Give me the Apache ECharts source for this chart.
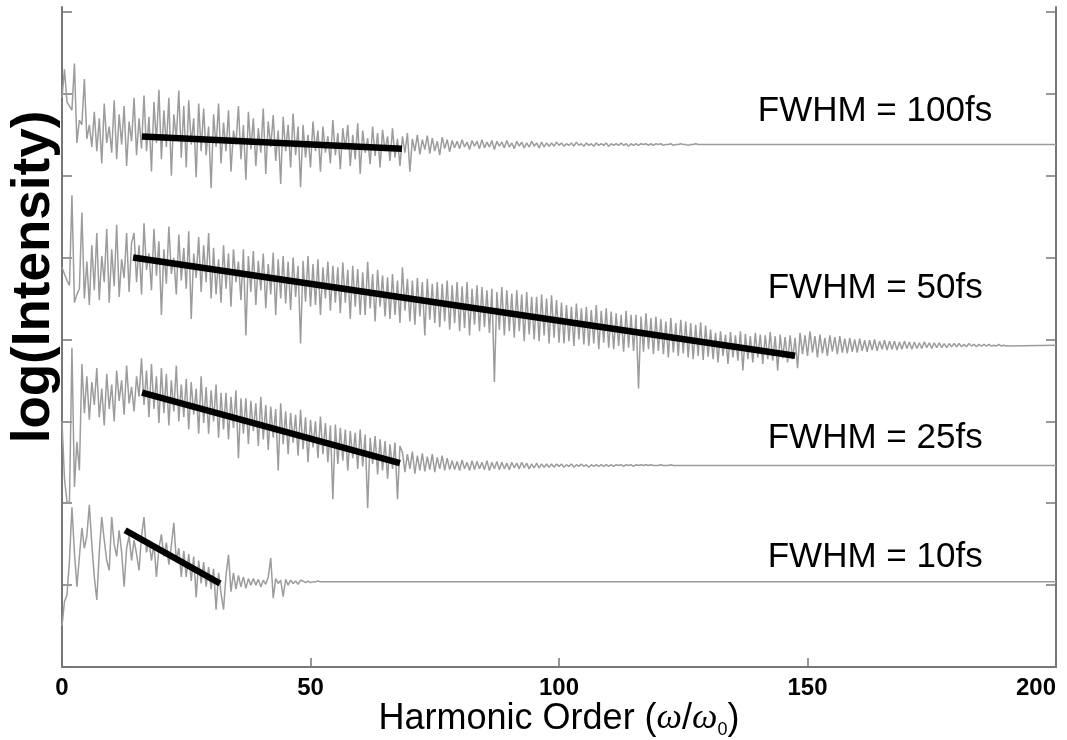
<!DOCTYPE html>
<html><head><meta charset="utf-8">
<script src="https://cdn.jsdelivr.net/npm/echarts@6/dist/echarts.min.js"></script>
<style>html,body{margin:0;padding:0;background:#fff}#c{width:1067px;height:740px}</style>
</head><body><div id="c"></div>
<script>
// ---- data ----
const step = 0.5;          // harmonic-order spacing of the sampled spectra
const xEnd = 200;
const labels = ['FWHM = 100fs', 'FWHM = 50fs', 'FWHM = 25fs', 'FWHM = 10fs'];
const baselines = [6.38, 3.93, 2.46, 1.04];
const labelX = [140, 142, 142, 142];
const labelY = [6.79, 4.63, 2.79, 1.34];
const yTicks = [0, 1, 2, 3, 4, 5, 6, 7, 8];

const fwhm100 = [6.95,7.30,6.90,6.85,6.80,7.37,6.40,6.68,6.62,7.18,6.45,
6.62,6.35,6.78,6.30,6.70,6.15,6.88,6.40,6.60,6.28,6.92,6.20,6.75,6.38,6.85,6.12,6.66,6.42,6.95,6.25,6.70,6.33,
6.98,6.30,6.72,6.05,6.90,6.40,7.05,6.20,6.80,6.35,6.95,6.00,6.75,6.45,7.04,6.22,6.85,6.10,6.92,6.38,6.70,5.98,6.88,6.30,
6.82,6.25,6.60,5.85,6.75,6.35,6.88,6.15,6.65,6.30,6.80,6.05,6.55,6.38,6.85,6.20,6.62,5.95,6.78,6.32,6.70,6.12,6.58,6.28,6.82,6.02,6.66,6.35,6.74,6.18,6.55,5.90,6.72,6.30,6.62,6.10,6.76,6.25,6.60,5.86,
6.62,6.22,6.50,6.10,6.66,6.30,6.55,6.05,6.60,6.28,6.48,6.15,6.68,6.25,6.52,6.08,6.58,6.32,6.62,6.12,6.50,6.20,6.64,6.02,6.55,6.28,6.46,6.14,6.60,6.24,6.52,6.10,6.56,6.30,6.48,6.18,6.58,6.22,6.45,6.12,
6.48,6.28,6.52,6.05,6.45,6.30,6.50,6.26,6.44,6.32,6.49,6.27,6.46,6.30,6.42,6.25,6.47,6.33,6.44,6.29,
6.43,6.34,6.42,6.33,6.44,6.35,6.41,6.32,6.43,6.36,6.42,6.33,6.44,6.34,6.41,6.35,6.43,6.32,6.42,6.36,6.41,6.34,6.43,6.35,6.40,6.33,6.42,6.36,6.41,6.34,6.40,6.35,6.42,6.36,6.40,6.34,6.41,6.35,6.40,6.36,
6.40,6.36,6.41,6.37,6.40,6.36,6.39,6.37,6.40,6.36,6.41,6.37,6.39,6.36,6.40,6.37,6.39,6.36,6.40,6.37,6.39,6.37,6.40,6.36,6.39,6.37,6.39,6.37,6.40,6.37,6.39,6.36,6.39,6.37,6.39,6.37,6.39,6.38,6.39,6.37,
6.39,6.37,6.39,6.38,6.39,6.37,6.38,6.38,6.39,6.37,6.38,6.38,6.39,6.38,6.38,6.37,6.38,6.38,6.39,6.38,6.38,6.38,6.38,6.38];

const fwhm50 = [4.88,4.80,4.72,4.66,5.76,4.45,4.55,4.62,5.55,
4.50,4.95,4.42,5.15,4.60,5.30,4.48,5.02,4.70,5.35,4.45,5.10,4.65,5.40,4.52,4.98,4.75,5.30,4.58,5.18,
5.30,4.70,5.15,4.55,5.42,4.85,5.05,4.60,5.35,4.78,5.20,4.30,5.10,4.68,5.38,4.80,5.00,4.55,5.28,4.72,5.12,4.62,5.32,4.25,5.05,4.75,5.25,4.58,5.15,4.70,5.30,4.50,
5.12,4.55,4.98,4.45,5.15,4.62,5.05,4.40,5.10,4.70,
4.95,4.48,5.10,4.05,5.02,4.58,5.08,4.42,4.96,4.60,
5.05,4.38,4.92,4.55,5.06,4.30,4.98,4.50,5.02,4.44,
4.95,4.36,5.00,4.52,4.90,3.95,4.96,4.46,5.02,4.40,
4.92,4.42,4.98,4.30,4.88,4.50,4.95,4.35,4.90,4.45,
4.88,4.32,4.94,4.45,4.85,4.25,4.90,4.40,4.86,4.30,
4.82,4.30,4.95,4.38,4.80,4.22,4.85,4.40,4.78,4.28,
4.76,4.25,4.80,4.30,4.72,4.20,4.88,4.35,4.74,4.22,
4.72,4.18,4.75,4.28,4.70,4.05,4.74,4.24,4.68,4.20,
4.70,4.15,4.68,4.22,4.72,4.12,4.66,4.20,4.70,4.10,
4.65,4.14,4.70,4.05,4.62,4.18,4.66,4.10,4.64,4.15,
4.60,4.08,4.62,3.48,4.58,4.12,4.64,4.05,4.60,4.10,
4.56,4.02,4.60,4.10,4.55,3.98,4.58,4.06,4.52,4.00,
4.52,3.98,4.55,4.05,4.50,3.95,4.54,4.02,4.48,3.96,
4.45,3.95,4.42,3.98,4.40,3.92,4.44,4.00,4.38,3.94,
4.40,3.92,4.36,3.95,4.42,3.88,4.35,3.96,4.38,3.90,
4.34,3.88,4.32,3.92,4.30,3.85,4.35,3.90,4.30,3.86,
4.30,3.40,4.28,3.85,4.32,3.88,4.26,3.82,4.28,3.86,
4.25,3.82,4.22,3.78,4.26,3.84,4.20,3.80,4.24,3.83,
4.22,3.78,4.20,3.76,4.18,3.80,4.21,3.75,4.17,3.79,
4.12,3.76,4.08,3.72,4.10,3.80,4.06,3.70,4.09,3.78,4.05,3.74,4.10,3.62,4.07,3.76,4.04,3.72,4.08,3.78,4.06,3.70,4.05,3.76,4.09,3.74,4.04,3.62,4.06,3.77,4.03,3.72,4.05,3.76,4.02,3.65,
4.08,3.82,4.05,3.80,4.10,3.84,4.04,3.78,4.06,3.83,4.02,3.80,4.05,3.85,4.03,3.82,4.04,3.84,4.01,3.83,4.02,3.85,4.00,3.84,4.01,3.86,3.99,3.85,
3.99,3.87,4.00,3.86,3.98,3.88,3.99,3.87,3.98,3.88,3.98,3.87,3.97,3.88,3.98,3.89,3.97,3.88,3.97,3.89,3.96,3.89,3.97,3.90,3.96,3.89,3.96,3.90,3.96,3.90,3.95,3.90,3.95,3.91,
3.95,3.91,3.95,3.91,3.94,3.91,3.95,3.92,3.94,3.91,3.94,3.92,3.94,3.92,3.94,3.92,3.93,3.92,3.94,3.92,3.93,3.92];

const fwhm25 = [3.00,2.30,2.02,2.00,3.90,2.20,2.75,2.40,3.70,
3.10,3.55,3.02,3.48,3.20,3.65,3.05,3.40,2.95,3.58,3.15,3.45,3.00,3.62,3.25,3.50,3.08,3.68,3.22,3.42,3.12,3.55,3.30,3.77,
3.20,3.62,3.05,3.70,3.15,3.55,2.98,3.65,
3.10,3.58,2.95,3.50,3.12,3.68,3.00,3.45,
3.05,3.52,2.90,3.48,3.08,3.40,2.85,3.55,
2.98,3.42,2.85,3.38,3.00,3.45,2.80,3.35,
2.90,3.35,2.78,3.30,2.92,3.38,2.55,3.28,
2.85,3.28,2.72,3.25,2.88,3.22,2.70,3.30,
2.78,3.20,2.65,3.18,2.80,3.15,2.40,3.22,
2.72,3.12,2.60,3.10,2.74,3.08,2.58,3.14,
2.66,3.05,2.50,3.02,2.68,3.00,2.55,3.06,
2.60,2.98,2.50,2.95,2.05,2.96,2.48,2.92,
2.52,2.90,2.40,2.88,2.55,2.86,2.42,2.90,
2.45,2.84,1.94,2.80,2.48,2.82,2.35,2.78,
2.40,2.76,2.30,2.72,2.42,2.74,2.05,2.70,
2.62,2.38,2.60,2.42,2.63,2.36,2.58,2.40,2.61,2.39,2.57,2.41,2.60,2.38,2.56,2.42,2.58,2.40,2.55,2.41,
2.52,2.41,2.51,2.40,2.53,2.42,2.50,2.40,2.52,2.41,2.51,2.42,2.50,2.41,2.52,2.40,2.50,2.42,2.51,2.41,2.50,2.42,2.49,2.41,2.50,2.43,2.49,2.42,2.50,2.43,2.49,2.42,2.48,2.43,2.49,2.43,2.48,2.44,2.48,2.44,
2.48,2.44,2.48,2.45,2.48,2.44,2.47,2.45,2.48,2.44,2.47,2.45,2.48,2.45,2.47,2.44,2.47,2.45,2.47,2.45,2.47,2.45,2.47,2.45,2.47,2.45,2.47,2.46,2.47,2.45,2.47,2.46,2.47,2.45,2.47,2.46,2.47,2.46,2.47,2.46,2.47,2.46,2.46,2.46,2.47,2.46,2.46,2.46,2.47,2.46,2.46,2.46,2.46,2.46,2.46,2.46,2.46,2.46,2.46,2.46];

const fwhm10 = [0.50,0.80,0.88,1.30,1.95,1.40,0.98,1.35,1.70,1.45,1.60,1.98,1.50,1.10,0.82,1.40,1.83,1.55,1.30,1.18,1.83,1.50,1.35,1.67,1.40,0.98,1.45,1.60,1.30,1.55,1.38,1.18,1.60,1.83,1.40,1.55,1.30,1.50,1.10,1.45,1.62,1.35,1.52,1.25,1.48,1.76,1.30,1.45,1.10,
1.42,1.10,1.38,1.05,1.35,0.85,1.30,1.02,1.28,0.98,1.22,0.95,1.20,0.70,1.15,0.90,0.70,
1.12,1.37,0.92,1.15,0.95,1.12,0.98,1.10,0.96,1.08,1.00,
1.08,1.00,1.07,0.98,1.06,1.01,1.10,1.33,0.84,1.08,1.02,1.06,0.86,1.07,1.00,1.06,1.02,1.05,1.01,1.06,
1.05,1.03,1.05,1.03,1.04,1.04,1.05,1.04];

const fit100 = [[16.1, 6.48], [68.4, 6.33]];
const fit50  = [[14.3, 5.00], [147.5, 3.80]];
const fit25  = [[16.1, 3.35], [68.0, 2.49]];
const fit10  = [[12.7, 1.67], [31.8, 1.02]];

// ---- chart ----
const FONT = '"Liberation Sans", Arial, sans-serif';
const spectra = [fwhm100, fwhm50, fwhm25, fwhm10];
const fits = [fit100, fit50, fit25, fit10];

const series = [];
spectra.forEach((vals, k) => {
  const data = vals.map((v, i) => [i * step, v]);
  data.push([xEnd, baselines[k]]);
  series.push({
    type: 'line', name: labels[k], data, showSymbol: false, symbol: 'none',
    lineStyle: { color: '#9c9c9c', width: 1.5 }, z: 2, silent: true
  });
});
fits.forEach(f => {
  series.push({
    type: 'line', data: f, showSymbol: false, symbol: 'none',
    lineStyle: { color: '#000', width: 6.5, cap: 'butt' }, z: 5, silent: true
  });
});
series.push({
  type: 'scatter', symbolSize: 0, z: 6, silent: true,
  itemStyle: { color: '#000', opacity: 1 },
  data: labels.map((t, k) => ({ value: [labelX[k], labelY[k]], name: t })),
  label: {
    show: true, position: 'right', distance: 0, opacity: 1,
    formatter: p => p.name, fontSize: 35, color: '#000', fontFamily: FONT
  }
});

const yAxisBase = {
  type: 'value', min: 0, max: 8.06,
  axisLine: { show: true, onZero: false, lineStyle: { color: '#777', width: 2 } },
  axisTick: { show: true, inside: true, length: 10, customValues: yTicks, lineStyle: { color: '#777', width: 1.5 } },
  axisLabel: { show: false },
  splitLine: { show: false }
};

const option = {
  animation: false,
  backgroundColor: '#fff',
  grid: { left: 62, right: 11, top: 7, bottom: 73, containLabel: false, outerBoundsMode: 'none' },
  xAxis: {
    type: 'value', min: 0, max: 200, interval: 50,
    axisLine: { show: true, onZero: false, lineStyle: { color: '#777', width: 2 } },
    axisTick: { show: true, inside: true, length: 9, lineStyle: { color: '#777', width: 1.5 } },
    axisLabel: { fontSize: 24, fontWeight: 'bold', color: '#000', fontFamily: FONT, margin: 9, alignMaxLabel: 'right' },
    splitLine: { show: false },
    name: '{n|Harmonic Order (}{w|ω}{n|/}{w|ω}{s|0}{n|)}',
    nameLocation: 'middle', nameGap: 32, nameMoveOverlap: false,
    nameTextStyle: {
      rich: {
        n: { fontSize: 36, color: '#000', fontFamily: FONT },
        w: { fontSize: 36, color: '#000', fontStyle: 'italic', fontFamily: '"Liberation Serif", serif' },
        s: { fontSize: 18, color: '#000', fontFamily: FONT, padding: [22, 0, 0, 0] }
      }
    }
  },
  yAxis: [
    Object.assign({}, yAxisBase, { position: 'left' }),
    Object.assign({}, yAxisBase, { position: 'right' })
  ],
  graphic: [{
    type: 'text', x: 34, y: 277, rotation: Math.PI / 2, silent: true,
    style: {
      text: 'log(Intensity)', fill: '#000',
      font: 'bold 53px "Liberation Sans", Arial, sans-serif',
      align: 'center', verticalAlign: 'middle',
      textAlign: 'center', textVerticalAlign: 'middle'
    }
  }],
  series
};

const chart = echarts.init(document.getElementById('c'), null, { renderer: 'canvas' });
chart.setOption(option);
</script>
</body></html>
